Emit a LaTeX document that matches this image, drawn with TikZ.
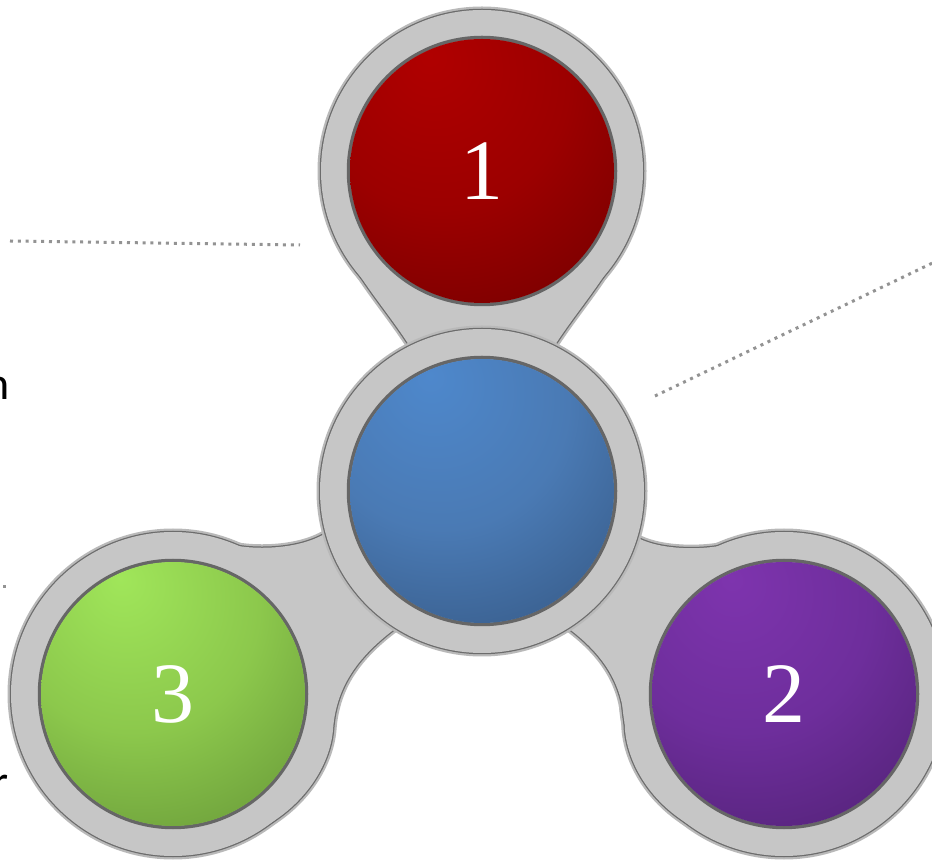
\documentclass[tikz,border=0pt]{standalone}
\usepackage{fontspec}
\usepackage{tikz}
\usetikzlibrary{calc}
\newfontfamily\digitfont{Liberation Serif}
\newfontfamily\sidefont{Carlito}
\definecolor{bodygray}{HTML}{C6C6C6}
\definecolor{redtop}{HTML}{B00000}
\definecolor{redmid}{HTML}{9C0000}
\definecolor{reddark}{HTML}{360000}
\definecolor{bluetop}{HTML}{4E88CC}
\definecolor{bluemid}{HTML}{4A7AB4}
\definecolor{bluedark}{HTML}{16253C}
\definecolor{greentop}{HTML}{A0E65A}
\definecolor{greenmid}{HTML}{8CC84C}
\definecolor{greendark}{HTML}{2E4C19}
\definecolor{purpletop}{HTML}{7E34AE}
\definecolor{purplemid}{HTML}{6E2E9C}
\definecolor{purpledark}{HTML}{240E38}
\newcommand{\ballshading}[4]{%
	\pgfdeclareradialshading{#1}{\pgfpoint{-10bp}{22bp}}{%
		color(0bp)=(#2); color(24bp)=(#3); color(42bp)=(#3!70!#4);
		color(58bp)=(#4); color(100bp)=(#4)}}
\ballshading{redball}{redtop}{redmid}{reddark}
\ballshading{blueball}{bluetop}{bluemid}{bluedark}
\ballshading{greenball}{greentop}{greenmid}{greendark}
\ballshading{purpleball}{purpletop}{purplemid}{purpledark}
\tikzset{
	bodyshadow/.style = {draw=gray!55, line width=7pt, line join=round},
	bodyline/.style   = {draw=gray!85!black, line width=2.5pt, line join=round},
	bodyfill/.style   = {fill=bodygray},
	cupshadow/.style  = {draw=gray!80!black, line width=3.5pt},
	ball/.style       = {circle, inner sep=0pt, minimum size=264pt,
		text=white, font=\digitfont\fontsize{86}{86}\selectfont},
	leader/.style     = {draw=gray!85, line width=3pt, dash pattern=on 3pt off 4.8pt},
	cutword/.style    = {font=\sidefont\fontsize{46}{46}\selectfont,
		inner sep=0pt, anchor=base east}
}

\begin{document}
\begin{tikzpicture}
	[
	x = 1pt,
	y = 1pt
	]
	\useasboundingbox (0,0) rectangle (932,860);
	\fill[white] (0,0) rectangle (932,860);
	\coordinate (T) at (482,689);
	\coordinate (C) at (482,369);
	\coordinate (L) at (173,166);
	\coordinate (R) at (784,166);
	\foreach \look in {bodyshadow, bodyline, bodyfill} {
		\path[\look] (T) circle (161);
		\path[\look] (L) circle (162);
		\path[\look] (R) circle (162);
		\path[\look] (T) -- ($(T)+(210:159)$) to[out=-60, in=122] ($(C)+(116:150)$) -- (C)
			-- ($(C)+(64:150)$) to[out=58, in=240] ($(T)+(330:159)$) -- cycle;
		\path[\look] (L) -- (229,316) .. controls (245,311) and (295,308) .. (326,327) -- (C)
			-- (396,232) .. controls (360,205) and (336,175) .. (333,130)
			.. controls (330,95) and (305,55) .. (262,32) -- cycle;
		\path[\look] (R) -- (728,316) .. controls (712,311) and (665,308) .. (638,322) -- (C)
			-- (568,232) .. controls (604,205) and (624,175) .. (625,130)
			.. controls (628,95) and (652,55) .. (695,32) -- cycle;
	}
	\foreach \look in {bodyshadow, bodyline, bodyfill}
		\path[\look] (C) circle (162);
	\foreach \p in {T, C, L, R}
		\path[cupshadow] (\p) circle (133.5);
	\node[ball, shading=redball] (one) at (T) {1};
	\node[ball, shading=blueball] (hub) at (C) {};
	\node[ball, shading=greenball] (three) at (L) {3};
	\node[ball, shading=purpleball] (two) at (R) {2};
	\coordinate (tailA) at (10,619);
	\coordinate (tipA) at (300,615);
	\draw[leader] (tailA) -- (tipA);
	\coordinate (tipB) at (655,464);
	\coordinate (tailB) at (945,603);
	\draw[leader] (tipB) -- (tailB);
	\coordinate (tailC) at (-20,273);
	\coordinate (tipC) at (7,273);
	\draw[leader] (tailC) -- (tipC);
	\node[cutword] (wordn) at (10,460) {n};
	\node[cutword] (wordr) at (8.5,63) {r};
\end{tikzpicture}
\end{document}
